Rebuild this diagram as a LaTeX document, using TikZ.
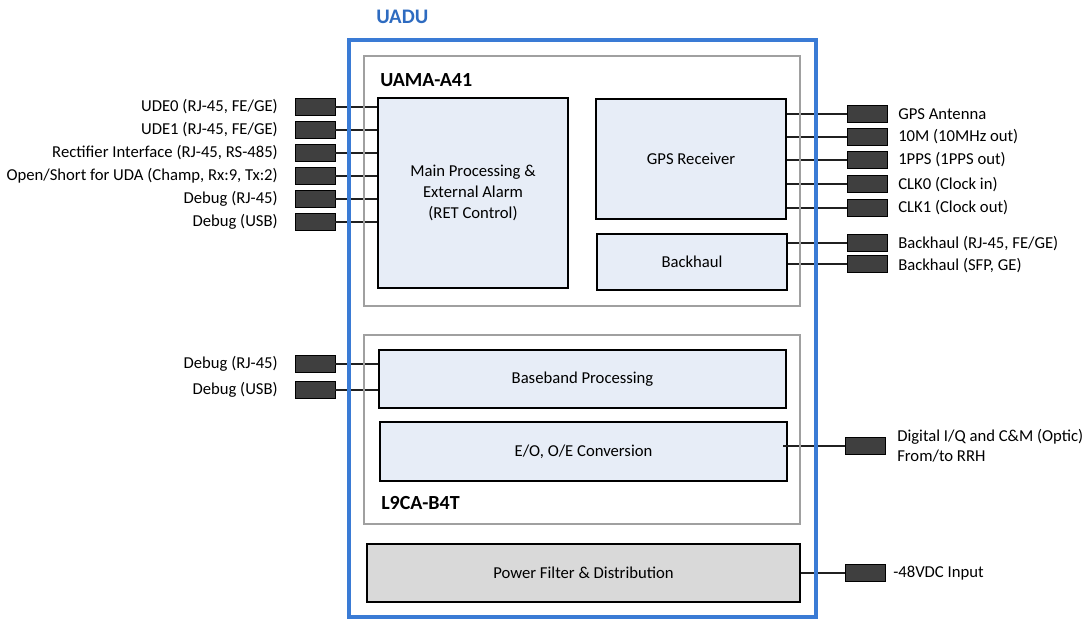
\documentclass[tikz,border=0pt]{standalone}
\usepackage{fontspec}
\setmainfont{Carlito}
\begin{document}
\begin{tikzpicture}[x=0.75pt,y=-0.75pt,
  blk/.style={draw=black,line width=1.5pt,fill=boxfill,inner sep=2pt,align=center,font=\fontsize{12.5}{16}\selectfont},
  conn/.style={draw=black,line width=0.6pt,fill=conngray,minimum width=30pt,minimum height=12.75pt,inner sep=0pt},
  wire/.style={draw=wiregray,line width=0.8pt},
  lbl/.style={font=\fontsize{12.5}{15}\selectfont,inner sep=0pt,align=left},
  ttl/.style={font=\bfseries\fontsize{15}{18}\selectfont,inner sep=0pt},
  graybox/.style={draw=framegray,line width=1.5pt}]
\definecolor{boxfill}{HTML}{E7EDF7}
\definecolor{conngray}{HTML}{3F3F3F}
\definecolor{wiregray}{HTML}{202020}
\definecolor{framegray}{HTML}{A0A0A0}
\definecolor{uadublue}{HTML}{3A7BD5}
\definecolor{uadutext}{HTML}{2E6BC0}
\definecolor{powerfill}{HTML}{D9D9D9}
\useasboundingbox (0,0) rectangle (1089,619);

% frames
\draw[graybox] (364,56) rectangle (800,306);
\draw[graybox] (364,335) rectangle (800,524);
\node[ttl,anchor=west] (uama) at (380,80) {UAMA-A41};
\node[ttl,anchor=west] (l9ca) at (381,503) {L9CA-B4T};
\node[ttl,text=uadutext,anchor=west,font=\bfseries\fontsize{15.5}{18}\selectfont] (uadu) at (376,17) {UADU};

% main blocks
\node[blk,minimum width=142.5pt,minimum height=142.5pt] (main) at (473,193) {Main Processing \&\\External Alarm\\(RET Control)};
\node[blk,minimum width=142.5pt,minimum height=90pt] (gps) at (691,159) {GPS Receiver};
\node[blk,minimum width=142.5pt,minimum height=42pt] (bh) at (692,262) {Backhaul};
\node[blk,minimum width=305.25pt,minimum height=43.5pt] (bb) at (582.5,379) {Baseband Processing};
\node[blk,minimum width=305.25pt,minimum height=44.25pt] (eo) at (583.5,451.5) {E/O, O/E Conversion};
\node[blk,fill=powerfill,minimum width=324.75pt,minimum height=43.5pt] (pw) at (583.5,573) {Power Filter \& Distribution};

% left connectors
\foreach \n/\y in {1/107,2/130,3/153,4/176,5/199,6/222,7/364,8/390}
  \node[conn] (cL\n) at (315,\y) {};
\node[lbl,anchor=east] (tL1) at (278,107) {UDE0 (RJ-45, FE/GE)};
\node[lbl,anchor=east] (tL2) at (278,130) {UDE1 (RJ-45, FE/GE)};
\node[lbl,anchor=east] (tL3) at (278,153) {Rectifier Interface (RJ-45, RS-485)};
\node[lbl,anchor=east] (tL4) at (278,176) {Open/Short for UDA (Champ, Rx:9, Tx:2)};
\node[lbl,anchor=east] (tL5) at (278,199) {Debug (RJ-45)};
\node[lbl,anchor=east] (tL6) at (278,222) {Debug (USB)};
\node[lbl,anchor=east] (tL7) at (278,364) {Debug (RJ-45)};
\node[lbl,anchor=east] (tL8) at (278,390) {Debug (USB)};

% right connectors
\foreach \n/\y in {1/114,2/137,3/160,4/184,5/208,6/243,7/264}
  \node[conn] (cR\n) at (867,\y) {};
\node[conn] (cR8) at (865,446) {};
\node[conn] (cR9) at (865,573) {};
\node[lbl,anchor=west] (tR1) at (898,114) {GPS Antenna};
\node[lbl,anchor=west] (tR2) at (898,137) {10M (10MHz out)};
\node[lbl,anchor=west] (tR3) at (898,160) {1PPS (1PPS out)};
\node[lbl,anchor=west] (tR4) at (898,185) {CLK0 (Clock in)};
\node[lbl,anchor=west] (tR5) at (898,208) {CLK1 (Clock out)};
\node[lbl,anchor=west] (tR6) at (898,244) {Backhaul (RJ-45, FE/GE)};
\node[lbl,anchor=west] (tR7) at (898,266) {Backhaul (SFP, GE)};
\node[lbl,anchor=west] (tR8) at (897,446) {Digital I/Q and C\&M (Optic)\\From/to RRH};
\node[lbl,anchor=west] (tR9) at (893,573) {-48VDC Input};

% wires
\foreach \n in {1,...,6} \draw[wire] (cL\n.east) -- (cL\n.east -| main.west);
\foreach \n in {7,8} \draw[wire] (cL\n.east) -- (cL\n.east -| bb.west);
\foreach \n in {1,...,5} \draw[wire] (cR\n.west) -- (cR\n.west -| gps.east);
\foreach \n in {6,7} \draw[wire] (cR\n.west) -- (cR\n.west -| bh.east);
\coordinate (eoin) at (783,446);
\draw[wire] (cR8.west) -- (eoin);
\draw[wire] (cR9.west) -- (cR9.west -| pw.east);

% redraw frames on top of wires
\draw[graybox] (364,56) rectangle (800,306);
\draw[graybox] (364,335) rectangle (800,524);
\draw[draw=uadublue,line width=2.4pt] (349,40) rectangle (816,617);
\end{tikzpicture}
\end{document}
